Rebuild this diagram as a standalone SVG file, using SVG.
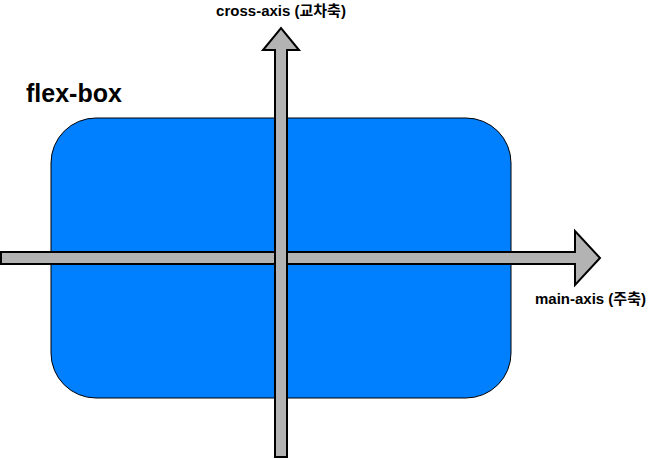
<svg xmlns="http://www.w3.org/2000/svg" width="648" height="459" viewBox="0 0 648 459">
<style>
.arrow{fill:#b3b3b3;stroke:#000;stroke-width:2;stroke-linejoin:miter}
.lbl{font-family:"Liberation Sans","Noto Sans CJK KR",sans-serif;font-weight:bold;fill:#000}
</style>
<rect width="648" height="459" fill="#fff"/>
<g id="flexbox">
<rect x="51" y="118" width="460" height="280" rx="45" ry="45" fill="#007fff" stroke="#000" stroke-width="1"/>
<text class="lbl" x="26" y="102" font-size="25">flex-box</text>
</g>
<g id="connectors">
<g id="main-axis">
<path class="arrow" d="M1,252 L575,252 L575,231 L600,258 L575,285 L575,264 L1,264 Z"/>
<text class="lbl" x="535" y="304" font-size="15">main-axis (주축)</text>
</g>
<g id="cross-axis">
<path class="arrow" d="M275,457 L275,50 L263,50 L281,28 L299,50 L287,50 L287,457 Z"/>
<text class="lbl" x="281" y="16" font-size="15" text-anchor="middle">cross-axis (교차축)</text>
</g>
</g>
</svg>
